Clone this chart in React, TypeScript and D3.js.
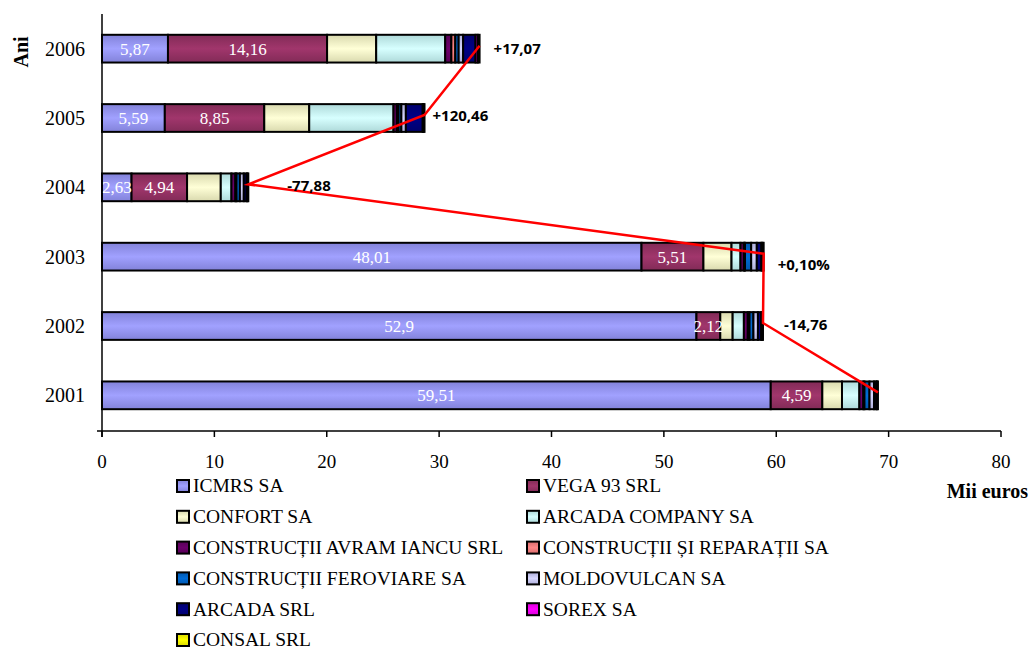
import React from "react";
import * as d3 from "d3";

const years = ["2001", "2002", "2003", "2004", "2005", "2006"];

const companies = [
  "ICMRS SA",
  "VEGA 93 SRL",
  "CONFORT SA",
  "ARCADA COMPANY SA",
  "CONSTRUCȚII AVRAM IANCU SRL",
  "CONSTRUCȚII ȘI REPARAȚII SA",
  "CONSTRUCȚII FEROVIARE SA",
  "MOLDOVULCAN SA",
  "ARCADA SRL",
  "SOREX SA",
  "CONSAL SRL",
];

const colors = [
  "#9999FF", "#993366", "#FFFFCC", "#CCFFFF", "#660066", "#FF8080",
  "#0066CC", "#CCCCFF", "#000080", "#FF00FF", "#FFFF00",
];

// values per company, 2001..2006 (mii euros)
const icmrs = [59.51, 52.9, 48.01, 2.63, 5.59, 5.87];
const vega93 = [4.59, 2.12, 5.51, 4.94, 8.85, 14.16];
const confort = [1.75, 1.1, 2.5, 3.0, 4.0, 4.37];
const arcadaCompany = [1.55, 1.0, 0.8, 0.95, 7.5, 6.14];
const avramIancu = [0.35, 0.35, 0.3, 0.35, 0.3, 0.55];
const reparatii = [0.1, 0.15, 0.1, 0.1, 0.15, 0.35];
const feroviare = [0.45, 0.35, 0.55, 0.3, 0.25, 0.3];
const moldovulcan = [0.4, 0.4, 0.5, 0.35, 0.4, 0.4];
const arcadaSrl = [0.2, 0.3, 0.41, 0.25, 1.5, 1.1];
const sorex = [0.08, 0.08, 0.1, 0.08, 0.08, 0.2];
const consal = [0.07, 0.07, 0.1, 0.07, 0.08, 0.16];

const series = [
  icmrs, vega93, confort, arcadaCompany, avramIancu, reparatii,
  feroviare, moldovulcan, arcadaSrl, sorex, consal,
];

// labels shown inside the first two segments
const icmrsLabels = ["59,51", "52,9", "48,01", "2,63", "5,59", "5,87"];
const vegaLabels = ["4,59", "2,12", "5,51", "4,94", "8,85", "14,16"];

// year-on-year change (%) for 2002..2006
const changeYears = ["2002", "2003", "2004", "2005", "2006"];
const changeLabels = ["-14,76", "+0,10%", "-77,88", "+120,46", "+17,07"];
const changeOffsets = [[21, -1], [14, 8], [39, -2], [8, -2], [14, 0]];

const xTicks = [0, 10, 20, 30, 40, 50, 60, 70, 80];

const W = 1031;
const H = 652;
const serif = "'Liberation Serif', 'Times New Roman', serif";
const sans = "'Open Sans', 'Liberation Sans', sans-serif";

export default function App() {
  const rows = years.map((y, i) => {
    const r: any = { year: y };
    companies.forEach((c, k) => (r[c] = series[k][i]));
    return r;
  });
  const stacked = d3.stack().keys(companies)(rows);
  const totals = years.map((_, i) => d3.sum(series, (s) => s[i]));

  const x = d3.scaleLinear().domain([0, 80]).range([102, 1001]);
  const y = d3
    .scaleBand()
    .domain([...years].reverse())
    .range([14, 430])
    .paddingInner(0.6)
    .paddingOuter(0.3);
  const bw = y.bandwidth();
  const cy = (yr: string) => (y(yr) as number) + bw / 2;
  const axisY = 431;

  const linePts: [number, number][] = years
    .map((yr, i) => [x(totals[i]), cy(yr) - 3] as [number, number])
    .reverse();
  const line = d3.line();

  return (
    <svg width={W} height={H} style={{ position: "absolute", left: 0, top: 0, background: "#fff" }}>
      <defs>
        {colors.map((c, k) => (
          <linearGradient key={k} id={"g" + k} x1="0" y1="0" x2="0" y2="1">
            <stop offset="0" stopColor={d3.color(c)!.darker(0.45).formatHex()} />
            <stop offset="0.5" stopColor={d3.color(c)!.brighter(0.15).formatHex()} />
            <stop offset="1" stopColor={d3.color(c)!.darker(0.45).formatHex()} />
          </linearGradient>
        ))}
      </defs>

      {/* bars */}
      {stacked.map((layer, k) => (
        <g key={k}>
          {layer.map((d, i) => (
            <rect
              key={i}
              x={x(d[0])}
              y={y(years[i])}
              width={x(d[1]) - x(d[0])}
              height={bw}
              fill={`url(#g${k})`}
              stroke="#000"
              strokeWidth={2}
            />
          ))}
        </g>
      ))}

      {/* segment labels */}
      {years.map((yr, i) => (
        <g key={yr} fontFamily={serif} fontSize={17} fill="#fff" textAnchor="middle">
          <text x={x(icmrs[i] / 2)} y={cy(yr)} dy="0.35em">{icmrsLabels[i]}</text>
          <text x={x(icmrs[i] + vega93[i] / 2)} y={cy(yr)} dy="0.35em">{vegaLabels[i]}</text>
        </g>
      ))}

      {/* axes */}
      <line x1={102} x2={102} y1={14} y2={437} stroke="#000" strokeWidth={1.5} />
      <line x1={97} x2={1001} y1={axisY} y2={axisY} stroke="#000" strokeWidth={1.5} />
      {xTicks.map((t) => (
        <g key={t}>
          <line x1={x(t)} x2={x(t)} y1={axisY} y2={axisY + 6} stroke="#000" strokeWidth={1.5} />
          <text x={x(t)} y={468} textAnchor="middle" fontFamily={serif} fontSize={19}>{t}</text>
        </g>
      ))}
      {years.map((yr) => (
        <text key={yr} x={85} y={cy(yr)} dy="0.35em" textAnchor="end" fontFamily={serif} fontSize={20}>
          {yr}
        </text>
      ))}
      <text
        transform="translate(28,52) rotate(-90)"
        textAnchor="middle"
        fontFamily={serif}
        fontSize={20}
        fontWeight="bold"
      >
        Ani
      </text>
      <text x={1028} y={498} textAnchor="end" fontFamily={serif} fontSize={20} fontWeight="bold">
        Mii euros
      </text>

      {/* change line */}
      <path d={line(linePts) as string} fill="none" stroke="#FF0000" strokeWidth={2.5} />
      {changeYears.map((yr, j) => {
        const i = years.indexOf(yr);
        return (
          <text
            key={yr}
            x={x(totals[i]) + changeOffsets[j][0]}
            y={cy(yr) + changeOffsets[j][1]}
            dy="0.35em"
            fontFamily={sans}
            fontSize={15}
            fontWeight="bold"
          >
            {changeLabels[j]}
          </text>
        );
      })}

      {/* legend */}
      {companies.map((c, k) => {
        const col = k % 2;
        const row = Math.floor(k / 2);
        const lx = col === 0 ? 177 : 527;
        const ly = 486 + row * 30.8;
        return (
          <g key={c}>
            <rect x={lx} y={ly - 6} width={12} height={12} fill={`url(#g${k})`} stroke="#000" strokeWidth={2} />
            <text x={lx + 16} y={ly} dy="0.33em" fontFamily={serif} fontSize={19.5}>{c}</text>
          </g>
        );
      })}
    </svg>
  );
}
